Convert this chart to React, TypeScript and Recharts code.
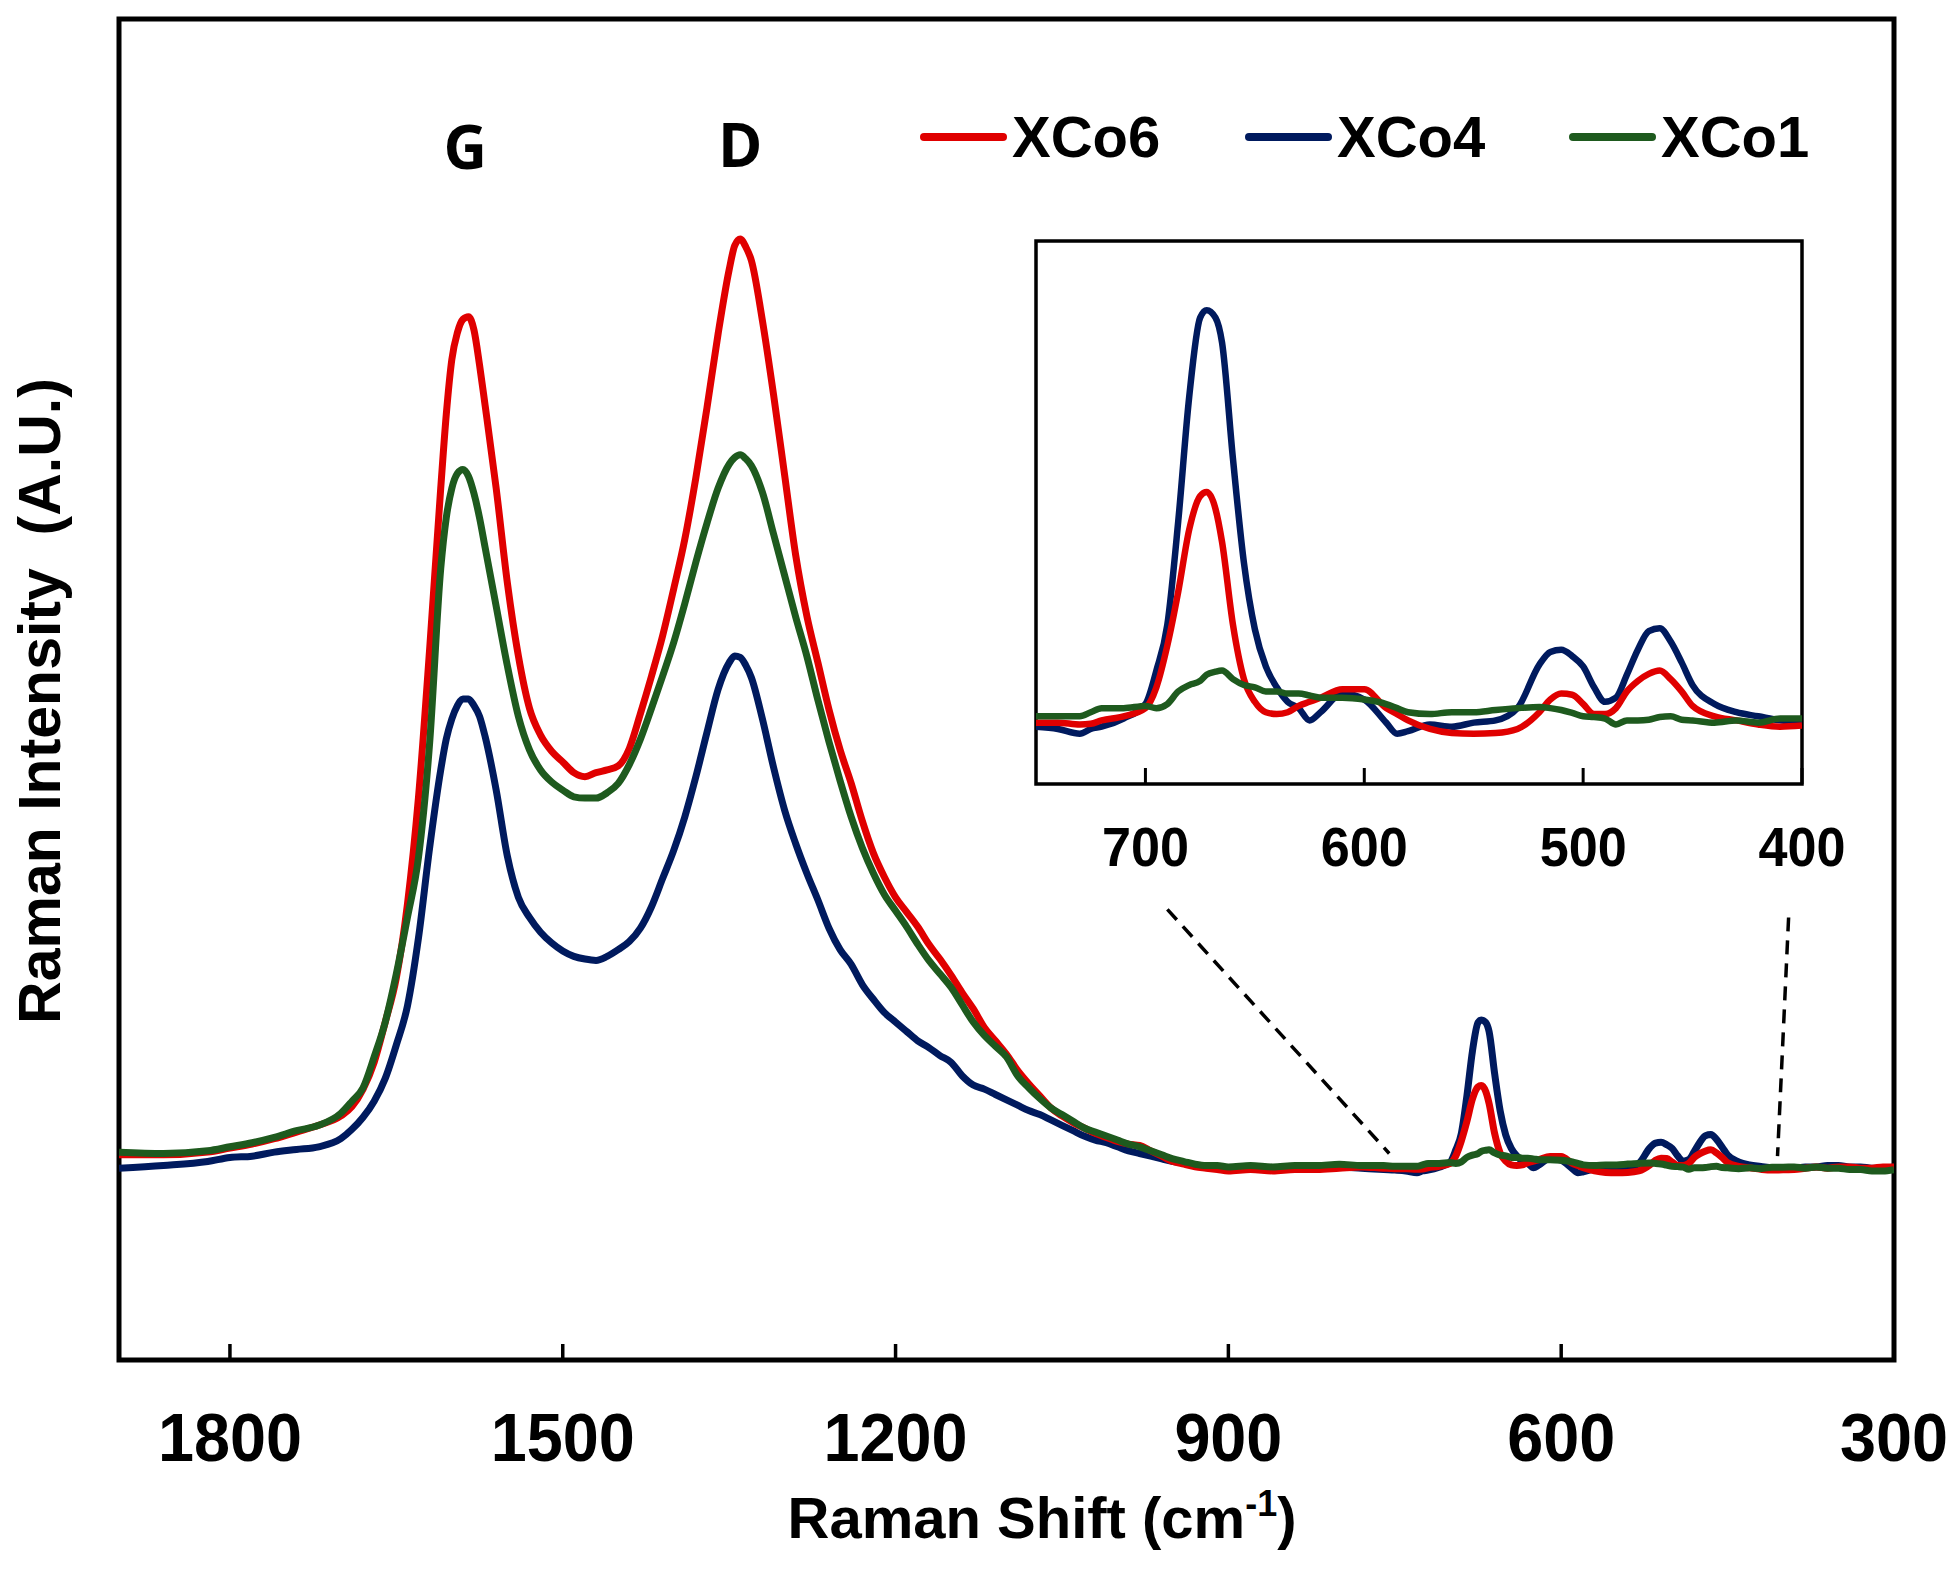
import { LineChart, Line, XAxis, YAxis, ReferenceArea, ReferenceLine, ReferenceDot } from 'recharts';

const FONT = "'Liberation Sans', Arial, sans-serif";

// Raman shift (cm-1) in three stretches
const SHIFT_BANDS = [
  1900, 1860, 1820, 1800, 1780, 1760, 1740, 1720, 1700, 1690,
  1680, 1670, 1660, 1650, 1640, 1630, 1620, 1610, 1605, 1600,
  1595, 1590, 1585, 1580, 1575, 1570, 1560, 1550, 1540, 1530,
  1520, 1510, 1500, 1490, 1480, 1470, 1460, 1450, 1440, 1430,
  1420, 1410, 1400, 1390, 1380, 1370, 1360, 1350, 1345, 1340,
  1335, 1330, 1320, 1310, 1300, 1290, 1280, 1270, 1260, 1250,
  1240, 1230, 1220, 1210, 1200, 1190, 1180, 1170, 1160, 1150,
  1140, 1130, 1120, 1110, 1100, 1090, 1080, 1070, 1060, 1050,
  1040, 1030, 1020, 1010, 1000, 990, 980, 970, 960, 950,
  940, 930, 920, 910, 900, 880, 860, 840, 820, 800,
  780, 760,
];
const SHIFT_INSET = [
  750, 740, 730, 725, 720, 710, 700, 695, 690, 685,
  680, 675, 672, 668, 665, 660, 655, 650, 645, 640,
  635, 630, 625, 620, 610, 600, 590, 585, 580, 570,
  560, 550, 540, 530, 520, 515, 510, 505, 500, 495,
  490, 485, 480, 475, 470, 465, 460, 455, 450, 440,
  430, 420, 410, 400,
];
const SHIFT_TAIL = [390, 380, 370, 360, 350, 340, 330, 320, 310, 300];

// XCo6 (red)
const XCO6_BANDS = [
  15.3, 15.3, 15.5, 15.8, 16.1, 16.5, 17.0, 17.5, 18.2, 18.9,
  20.2, 22.2, 25.2, 28.5, 34.0, 42.0, 53.0, 65.0, 70.5, 74.6,
  76.6, 77.6, 77.8, 76.8, 74.2, 71.2, 65.0, 58.0, 52.5, 48.6,
  46.6, 45.4, 44.6, 43.8, 43.5, 43.8, 44.0, 44.3, 45.6, 48.2,
  51.0, 54.0, 57.5, 61.2, 65.8, 71.0, 76.5, 81.3, 83.1, 83.6,
  83.0, 82.0, 77.5, 72.0, 66.0, 60.0, 55.5, 52.0, 48.5, 45.5,
  43.0, 40.2, 37.8, 36.0, 34.5, 33.4, 32.3, 31.0, 29.9, 28.7,
  27.4, 26.2, 24.8, 23.8, 22.8, 21.6, 20.6, 19.7, 18.8, 18.2,
  17.7, 17.3, 16.9, 16.6, 16.3, 16.1, 16.0, 15.6, 15.2, 14.8,
  14.6, 14.4, 14.3, 14.2, 14.1, 14.2, 14.1, 14.2, 14.2, 14.3,
  14.4, 14.3,
];
const XCO6_INSET = [
  14.27, 14.27, 14.22, 14.24, 14.33, 14.44, 14.66, 15.22, 16.34, 17.79,
  19.46, 20.36, 20.47, 20.02, 19.13, 16.9, 15.44, 14.83, 14.55, 14.5,
  14.55, 14.72, 14.83, 14.94, 15.17, 15.17, 14.66, 14.5, 14.33, 14.1,
  13.99, 13.97, 13.99, 14.1, 14.55, 14.89, 15.05, 15.02, 14.77, 14.5,
  14.5, 14.66, 15.11, 15.39, 15.58, 15.67, 15.44, 15.11, 14.72, 14.44,
  14.33, 14.22, 14.16, 14.19,
];
const XCO6_TAIL = [14.2, 14.3, 14.4, 14.3, 14.4, 14.4, 14.3, 14.3, 14.4, 14.4];

// XCo4 (navy)
const XCO4_BANDS = [
  14.3, 14.5, 14.8, 15.1, 15.2, 15.5, 15.7, 15.9, 16.5, 17.2,
  18.1, 19.3, 21.0, 23.5, 26.4, 31.5, 38.2, 44.0, 46.3, 47.8,
  48.8, 49.3, 49.3, 48.8, 48.0, 46.5, 42.5, 37.6, 34.5, 33.0,
  31.9, 31.1, 30.5, 30.1, 29.9, 29.8, 30.1, 30.6, 31.2, 32.2,
  33.8, 35.9, 38.0, 40.5, 43.5, 46.8, 50.0, 52.0, 52.5, 52.4,
  51.8, 50.9, 47.8, 44.2, 41.0, 38.5, 36.3, 34.3, 32.2, 30.6,
  29.5, 28.0, 26.9, 25.9, 25.2, 24.5, 23.8, 23.3, 22.7, 22.2,
  21.2, 20.5, 20.2, 19.8, 19.4, 19.0, 18.6, 18.3, 17.9, 17.5,
  17.1, 16.7, 16.4, 16.2, 15.9, 15.6, 15.4, 15.2, 15.0, 14.8,
  14.7, 14.5, 14.4, 14.4, 14.3, 14.4, 14.3, 14.4, 14.3, 14.4,
  14.3, 14.2,
];
const XCO4_INSET = [
  14.16, 14.1, 13.97, 14.1, 14.16, 14.38, 14.77, 15.67, 16.9, 19.69,
  23.03, 25.16, 25.36, 25.16, 24.49, 21.36, 18.57, 16.78, 15.78, 15.22,
  14.83, 14.66, 14.33, 14.55, 15.05, 14.89, 14.27, 13.97, 14.04, 14.22,
  14.16, 14.27, 14.33, 14.66, 15.83, 16.17, 16.23, 16.06, 15.78, 15.22,
  14.83, 14.94, 15.56, 16.23, 16.73, 16.81, 16.45, 15.89, 15.28, 14.77,
  14.55, 14.44, 14.33, 14.27,
];
const XCO4_TAIL = [14.3, 14.4, 14.4, 14.5, 14.5, 14.4, 14.4, 14.3, 14.3, 14.4];

// XCo1 (green)
const XCO1_BANDS = [
  15.5, 15.4, 15.6, 15.9, 16.2, 16.6, 17.1, 17.5, 18.4, 19.3,
  20.3, 22.6, 25.2, 28.8, 33.0, 37.5, 46.0, 59.0, 62.8, 65.0,
  66.1, 66.4, 65.9, 64.6, 62.8, 60.6, 56.2, 51.8, 48.0, 45.5,
  44.0, 43.1, 42.5, 42.0, 41.9, 41.9, 42.3, 43.0, 44.4, 46.3,
  48.6, 51.0, 53.5, 56.4, 59.5, 62.4, 65.0, 66.8, 67.3, 67.5,
  67.2, 66.7, 64.7, 61.6, 58.5, 55.4, 52.5, 49.2, 46.1, 43.2,
  40.5, 38.2, 36.3, 34.7, 33.5, 32.3, 31.0, 29.8, 28.8, 27.8,
  26.5, 25.2, 24.2, 23.4, 22.6, 21.2, 20.3, 19.5, 18.8, 18.3,
  17.8, 17.3, 17.0, 16.7, 16.4, 16.1, 15.9, 15.6, 15.3, 15.0,
  14.8, 14.6, 14.5, 14.5, 14.4, 14.5, 14.4, 14.5, 14.5, 14.6,
  14.5, 14.5,
];
const XCO1_INSET = [
  14.44, 14.44, 14.44, 14.55, 14.66, 14.66, 14.72, 14.66, 14.77, 15.11,
  15.28, 15.39, 15.56, 15.64, 15.67, 15.44, 15.28, 15.22, 15.11, 15.11,
  15.05, 15.05, 15.0, 14.94, 14.94, 14.89, 14.77, 14.66, 14.55, 14.5,
  14.55, 14.55, 14.61, 14.66, 14.69, 14.66, 14.61, 14.53, 14.44, 14.42,
  14.38, 14.22, 14.33, 14.33, 14.35, 14.42, 14.44, 14.35, 14.33, 14.27,
  14.33, 14.27, 14.38, 14.38,
];
const XCO1_TAIL = [14.4, 14.3, 14.4, 14.3, 14.3, 14.2, 14.2, 14.1, 14.1, 14.2];

const MAIN_TICKS = [1800, 1500, 1200, 900, 600, 300];
const INSET_TICKS = [700, 600, 500, 400];

const SERIES = [
  { key: 'XCo6', color: '#e00000' },
  { key: 'XCo4', color: '#001a5e' },
  { key: 'XCo1', color: '#1e5a1e' },
];
// drawing order: navy under red under green
const DRAW_ORDER = ['XCo4', 'XCo6', 'XCo1'];

const shift = [...SHIFT_BANDS, ...SHIFT_INSET, ...SHIFT_TAIL];
const xco6 = [...XCO6_BANDS, ...XCO6_INSET, ...XCO6_TAIL];
const xco4 = [...XCO4_BANDS, ...XCO4_INSET, ...XCO4_TAIL];
const xco1 = [...XCO1_BANDS, ...XCO1_INSET, ...XCO1_TAIL];

const rows = shift.map((s, i) => ({ shift: s, XCo6: xco6[i], XCo4: xco4[i], XCo1: xco1[i] }));
const insetRows = rows.filter((r) => r.shift <= 750 && r.shift >= 400);

const colorOf = (k: string) => SERIES.find((s) => s.key === k)!.color;

function MainTick(props: any) {
  const { x, y, payload } = props;
  const label = String(payload.value);
  return (
    <g>
      <line x1={x} x2={x} y1={y} y2={y - 16} stroke="#000" strokeWidth={3.5} />
      <text
        x={x}
        y={y + 101}
        textAnchor="middle"
        fontSize={68}
        fontWeight={700}
        fontFamily={FONT}
        fill="#000"
        textLength={label.length * 36}
        lengthAdjust="spacingAndGlyphs"
      >
        {label}
      </text>
    </g>
  );
}

function InsetTick(props: any) {
  const { x, y, payload } = props;
  const label = String(payload.value);
  return (
    <g>
      <line x1={x} x2={x} y1={y} y2={y - 16} stroke="#000" strokeWidth={3} />
      <text
        x={x}
        y={y + 82}
        textAnchor="middle"
        fontSize={55}
        fontWeight={700}
        fontFamily={FONT}
        fill="#000"
        textLength={label.length * 29}
        lengthAdjust="spacingAndGlyphs"
      >
        {label}
      </text>
    </g>
  );
}

const XTitle = () => (
  <text x={1042} y={1538} textAnchor="middle" fontSize={58} fontWeight={700} fontFamily={FONT} fill="#000">
    <tspan>Raman Shift (cm</tspan>
    <tspan dy={-22} fontSize={36}>-1</tspan>
    <tspan dy={22}>)</tspan>
  </text>
);

const YTitle = () => (
  <text
    x={60}
    y={701}
    transform="rotate(-90 60 701)"
    textAnchor="middle"
    fontSize={59}
    fontWeight={700}
    fontFamily={FONT}
    fill="#000"
    xmlSpace="preserve"
  >
    Raman Intensity  (A.U.)
  </text>
);

const peakLabel = (text: string) => (p: any) => (
  <text x={p.cx} y={p.cy} textAnchor="middle" fontSize={60} fontWeight={700} fontFamily="'Open Sans', sans-serif" fill="#000">
    {text}
  </text>
);

const LEGEND_X = [920, 1245, 1569];

export default function App() {
  return (
    <div style={{ position: 'absolute', left: 0, top: 0, width: 1953, height: 1593, background: '#fff' }}>
      <LineChart width={1953} height={1593} data={rows} margin={{ top: 19, right: 59, bottom: 83, left: 0 }}>
        <XAxis
          dataKey="shift"
          type="number"
          domain={[300, 1900]}
          reversed
          ticks={MAIN_TICKS}
          interval={0}
          height={150}
          axisLine={false}
          tickLine={false}
          tickSize={0}
          tickMargin={0}
          tick={MainTick}
          label={XTitle}
          allowDataOverflow
        />
        <YAxis
          type="number"
          domain={[0, 100]}
          width={119}
          tick={false}
          axisLine={false}
          tickLine={false}
          label={YTitle}
          allowDataOverflow
        />
        {DRAW_ORDER.map((k) => (
          <Line
            key={k}
            dataKey={k}
            type="monotone"
            stroke={colorOf(k)}
            strokeWidth={7}
            strokeLinejoin="round"
            dot={false}
            isAnimationActive={false}
          />
        ))}
        <ReferenceArea x1={300} x2={1900} y1={0} y2={100} fill="none" stroke="#000" strokeWidth={5} />
        <ReferenceLine
          segment={[{ x: 955, y: 33.6 }, { x: 755, y: 15.4 }]}
          stroke="#000"
          strokeWidth={3.5}
          strokeDasharray="14 9"
        />
        <ReferenceLine
          segment={[{ x: 395, y: 33.0 }, { x: 405, y: 15.2 }]}
          stroke="#000"
          strokeWidth={3.5}
          strokeDasharray="14 9"
        />
        <ReferenceDot x={1588} y={88.8} r={1} shape={peakLabel('G')} />
        <ReferenceDot x={1340} y={89.0} r={1} shape={peakLabel('D')} />
      </LineChart>

      <div style={{ position: 'absolute', left: 1000, top: 230 }}>
        <LineChart width={850} height={680} data={insetRows} margin={{ top: 11, right: 48, bottom: 26, left: 36 }}>
          <XAxis
            dataKey="shift"
            type="number"
            domain={[400, 750]}
            reversed
            ticks={INSET_TICKS}
            interval={0}
            height={100}
            axisLine={false}
            tickLine={false}
            tickSize={0}
            tickMargin={0}
            tick={InsetTick}
            allowDataOverflow
          />
          <YAxis type="number" domain={[12.62, 27.22]} hide allowDataOverflow />
          {DRAW_ORDER.map((k) => (
            <Line
              key={k}
              dataKey={k}
              type="monotone"
              stroke={colorOf(k)}
              strokeWidth={6.5}
              strokeLinejoin="round"
              dot={false}
              isAnimationActive={false}
            />
          ))}
          <ReferenceArea x1={400} x2={750} y1={12.62} y2={27.22} fill="none" stroke="#000" strokeWidth={3.5} />
        </LineChart>
      </div>

      {SERIES.map((s, i) => (
        <div key={s.key}>
          <div
            style={{
              position: 'absolute',
              left: LEGEND_X[i],
              top: 133,
              width: 87,
              height: 8,
              borderRadius: 4,
              background: s.color,
            }}
          />
          <div
            style={{
              position: 'absolute',
              left: LEGEND_X[i] + 92,
              top: 108,
              fontSize: 58,
              lineHeight: '58px',
              fontWeight: 700,
              fontFamily: FONT,
              color: '#000',
              whiteSpace: 'nowrap',
            }}
          >
            {s.key}
          </div>
        </div>
      ))}
    </div>
  );
}
